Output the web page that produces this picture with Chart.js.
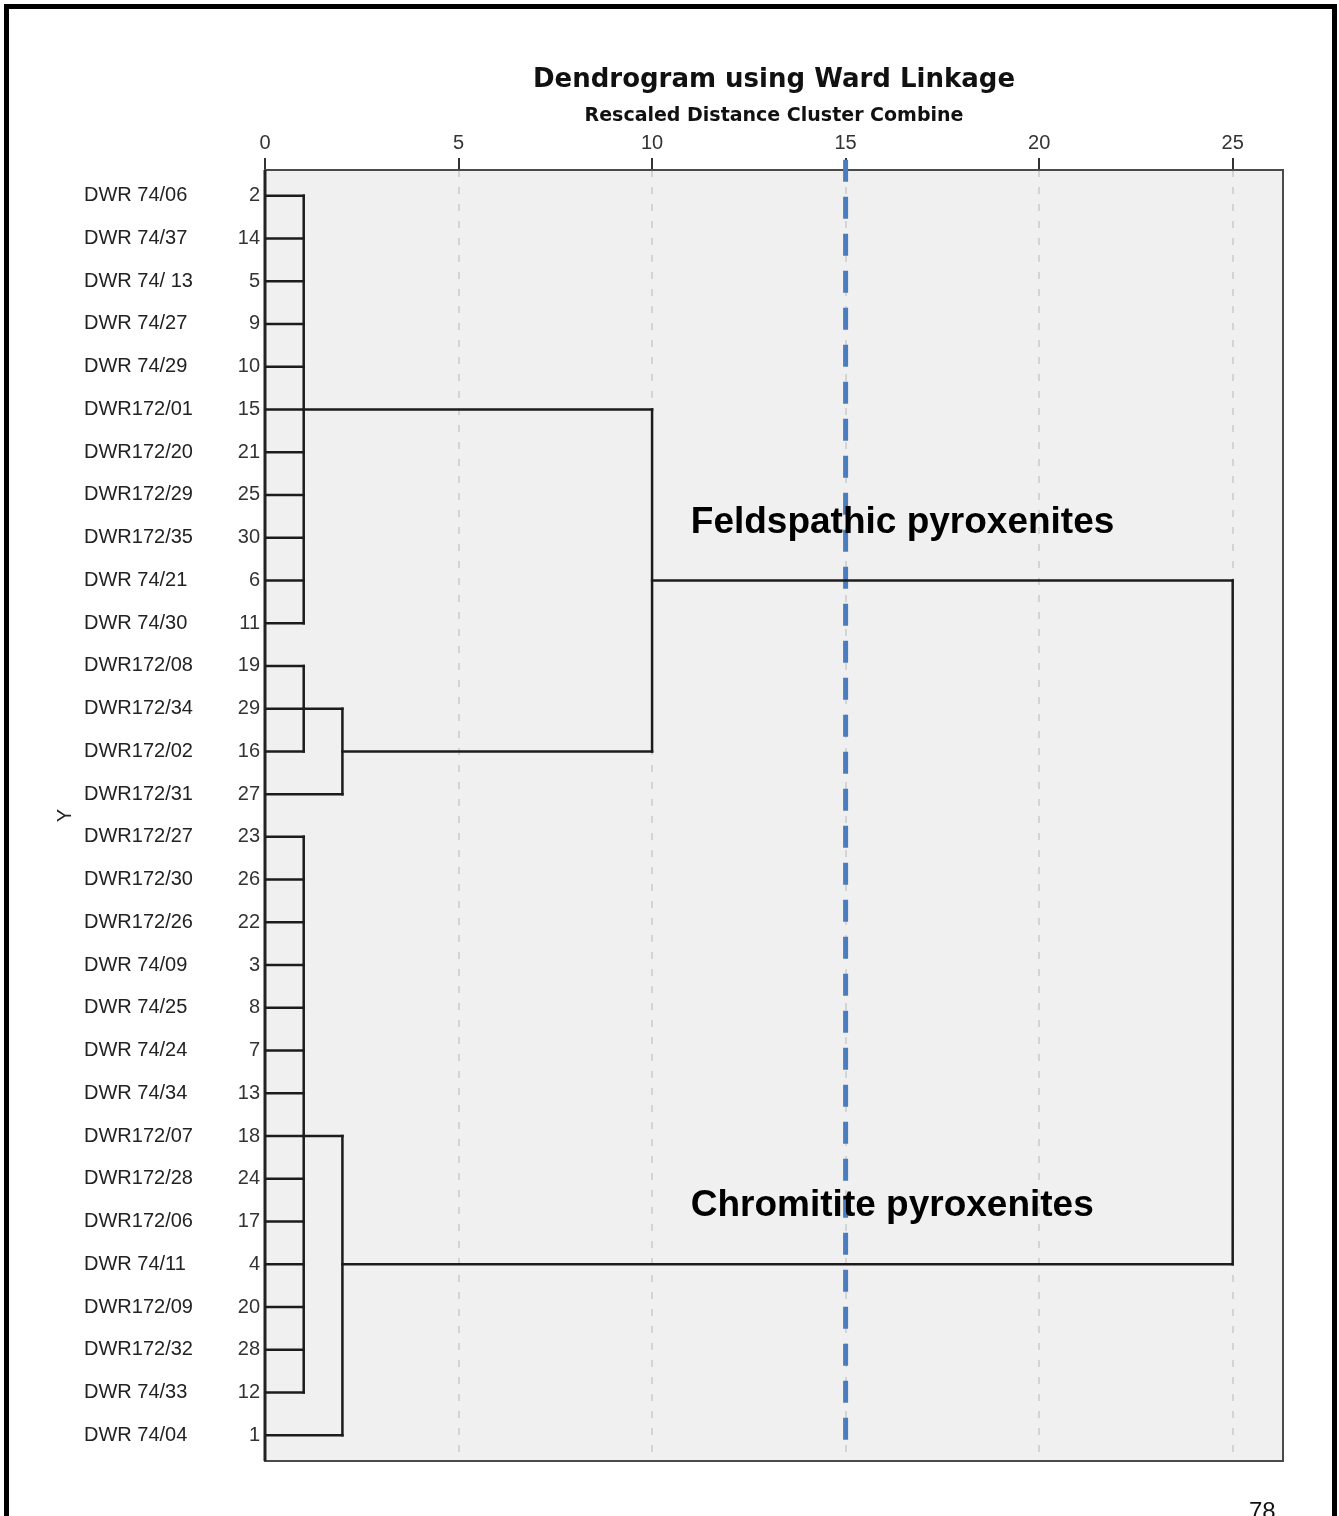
<!DOCTYPE html>
<html>
<head>
<meta charset="utf-8">
<title>Dendrogram using Ward Linkage</title>
<script src="https://cdn.jsdelivr.net/npm/chart.js@4.4.1/dist/chart.umd.min.js"></script>
<style>
  html, body { margin: 0; padding: 0; background: #fff; overflow: hidden; }
  #wrap { position: relative; width: 1339px; height: 1516px; }
  #dendro { position: absolute; left: 0; top: 0; }
  #frame {
    position: absolute; left: 4px; top: 4px; width: 1333px; height: 1600px;
    box-sizing: border-box; border: 5px solid #000; pointer-events: none;
  }
  #pageNo {
    position: absolute; left: 1249px; top: 1497px;
    font: 24px "Liberation Sans", Arial, sans-serif; color: #111;
  }
</style>
</head>
<body>
<div id="wrap">
  <canvas id="dendro" width="1339" height="1516"></canvas>
  <div id="frame"></div>
  <div id="pageNo">78</div>
</div>
<script>
// leaf order, top to bottom
const leafNames = [
  'DWR 74/06', 'DWR 74/37', 'DWR 74/ 13', 'DWR 74/27', 'DWR 74/29',
  'DWR172/01', 'DWR172/20', 'DWR172/29', 'DWR172/35', 'DWR 74/21',
  'DWR 74/30', 'DWR172/08', 'DWR172/34', 'DWR172/02', 'DWR172/31',
  'DWR172/27', 'DWR172/30', 'DWR172/26', 'DWR 74/09', 'DWR 74/25',
  'DWR 74/24', 'DWR 74/34', 'DWR172/07', 'DWR172/28', 'DWR172/06',
  'DWR 74/11', 'DWR172/09', 'DWR172/32', 'DWR 74/33', 'DWR 74/04'
];
const caseNumbers = [
  2, 14, 5, 9, 10, 15, 21, 25, 30, 6,
  11, 19, 29, 16, 27, 23, 26, 22, 3, 8,
  7, 13, 18, 24, 17, 4, 20, 28, 12, 1
];

// merge steps: children are case numbers or earlier merge ids,
// height = rescaled distance, joinAt = case row where the link leaves
const mergeIds      = ['A', 'B', 'C', 'D', 'E', 'F', 'G'];
const mergeChildren = [
  [2, 14, 5, 9, 10, 15, 21, 25, 30, 6, 11],
  [19, 29, 16],
  ['B', 27],
  ['A', 'C'],
  [23, 26, 22, 3, 8, 7, 13, 18, 24, 17, 4, 20, 28, 12],
  ['E', 1],
  ['D', 'F']
];
const mergeHeights  = [1, 1, 2, 10, 1, 2, 25];
const mergeJoinAt   = [15, 29, 16, 6, 18, 4, null];

const xTicks = [0, 5, 10, 15, 20, 25];
const cutoffDistance = 15;
const clusterLabels = ['Feldspathic pyroxenites', 'Chromitite pyroxenites'];

// ---- build dendrogram segments from the merge table ----
function rowOf(caseNo) { return caseNumbers.indexOf(caseNo); }

const built = {};
const segments = [];
mergeIds.forEach((id, k) => {
  const h = mergeHeights[k];
  const ends = mergeChildren[k].map(c => {
    if (typeof c === 'number') return { row: rowOf(c), from: 0 };
    return { row: built[c].row, from: built[c].height };
  });
  ends.forEach(e => segments.push([{ x: e.from, y: e.row }, { x: h, y: e.row }]));
  const rows = ends.map(e => e.row);
  segments.push([{ x: h, y: Math.min(...rows) }, { x: h, y: Math.max(...rows) }]);
  built[id] = { row: mergeJoinAt[k] == null ? null : rowOf(mergeJoinAt[k]), height: h };
});

const datasets = segments.map(seg => ({
  data: seg,
  showLine: true,
  borderColor: '#1c1c1c',
  borderWidth: 2.5,
  borderCapStyle: 'square',
  pointRadius: 0,
  pointHoverRadius: 0
}));

// cut-off line
datasets.push({
  data: [{ x: cutoffDistance, y: -0.84 }, { x: cutoffDistance, y: 29.37 }],
  showLine: true,
  borderColor: '#4a7dbf',
  borderWidth: 5,
  borderDash: [22, 15],
  borderCapStyle: 'butt',
  pointRadius: 0,
  clip: false
});

const rowTicks = scale => { scale.ticks = caseNumbers.map((_, i) => ({ value: i })); };

// plot background + frame
const plotFrame = {
  id: 'plotFrame',
  beforeDraw(chart) {
    const { ctx, chartArea: a } = chart;
    ctx.save();
    ctx.fillStyle = '#f0f0f0';
    ctx.fillRect(a.left, a.top, a.right - a.left, a.bottom - a.top);
    ctx.restore();
  },
  beforeDatasetsDraw(chart) {
    const { ctx, chartArea: a } = chart;
    ctx.save();
    ctx.strokeStyle = '#4a4a4a';
    ctx.lineWidth = 2;
    ctx.strokeRect(a.left, a.top, a.right - a.left, a.bottom - a.top);
    ctx.strokeStyle = '#222';
    ctx.lineWidth = 3;
    ctx.beginPath();
    ctx.moveTo(a.left, a.top);
    ctx.lineTo(a.left, a.bottom);
    ctx.stroke();
    ctx.restore();
  }
};

// cluster names written inside the plot
const clusterText = {
  id: 'clusterText',
  afterDatasetsDraw(chart, args, opts) {
    const { ctx, scales: { x, y } } = chart;
    ctx.save();
    ctx.font = 'bold 37px "Liberation Sans", Arial, sans-serif';
    ctx.fillStyle = '#000';
    ctx.textBaseline = 'alphabetic';
    opts.labels.forEach((t, i) => {
      ctx.fillText(t, x.getPixelForValue(opts.anchors[i][0]), y.getPixelForValue(opts.anchors[i][1]));
    });
    ctx.restore();
  }
};

new Chart(document.getElementById('dendro'), {
  type: 'scatter',
  data: { datasets },
  plugins: [plotFrame, clusterText],
  options: {
    responsive: false,
    animation: false,
    devicePixelRatio: 1,
    events: [],
    layout: { padding: { top: 48, left: 40, right: 56, bottom: 55 } },
    plugins: {
      legend: { display: false },
      tooltip: { enabled: false },
      title: {
        display: true,
        text: 'Dendrogram using Ward Linkage',
        fullSize: false,
        color: '#111',
        font: { family: '"DejaVu Sans", sans-serif', size: 26, weight: 'bold' },
        padding: { top: 17, bottom: 1 }
      },
      clusterText: {
        labels: clusterLabels,
        anchors: [[11, 7.88], [11, 23.88]]
      }
    },
    scales: {
      x: {
        type: 'linear',
        position: 'top',
        min: 0,
        max: 26.3,
        afterBuildTicks: s => { s.ticks = xTicks.map(v => ({ value: v })); },
        afterFit: s => { s.height = 72.8; },
        ticks: {
          color: '#333',
          padding: 3,
          font: { family: '"Liberation Sans", Arial, sans-serif', size: 20 }
        },
        grid: {
          color: '#d4d4d4',
          lineWidth: 2,
          drawTicks: true,
          tickLength: 12,
          tickColor: '#333',
          tickWidth: 2,
          tickBorderDash: []
        },
        border: { display: false, dash: [7, 10] },
        title: {
          display: true,
          text: 'Rescaled Distance Cluster Combine',
          color: '#111',
          font: { family: '"DejaVu Sans", sans-serif', size: 19, weight: 'bold' },
          padding: { top: 7, bottom: 0 }
        }
      },
      y: {
        type: 'linear',
        position: 'left',
        weight: 0,
        reverse: true,
        min: -0.6,
        max: 29.6,
        afterBuildTicks: rowTicks,
        afterFit: s => { s.width = 61; },
        ticks: {
          autoSkip: false,
          padding: 5,
          color: '#333',
          font: { family: '"Liberation Sans", Arial, sans-serif', size: 20 },
          callback: v => caseNumbers[v]
        },
        grid: { display: false, drawTicks: false },
        border: { display: false }
      },
      yNames: {
        type: 'linear',
        position: 'left',
        weight: 1,
        reverse: true,
        min: -0.6,
        max: 29.6,
        afterBuildTicks: rowTicks,
        afterFit: s => { s.width = 120; },
        ticks: {
          autoSkip: false,
          crossAlign: 'far',
          color: '#222',
          font: { family: '"Liberation Sans", Arial, sans-serif', size: 20 },
          callback: v => leafNames[v]
        },
        grid: { display: false, drawTicks: false },
        border: { display: false }
      },
      yTitle: {
        type: 'linear',
        position: 'left',
        weight: 2,
        afterFit: s => { s.width = 44; },
        ticks: { display: false },
        grid: { display: false, drawTicks: false },
        border: { display: false },
        title: {
          display: true,
          text: 'Y',
          color: '#222',
          font: { family: '"Liberation Sans", Arial, sans-serif', size: 20 },
          padding: { top: 13, bottom: 0 }
        }
      }
    }
  }
});
</script>
</body>
</html>
